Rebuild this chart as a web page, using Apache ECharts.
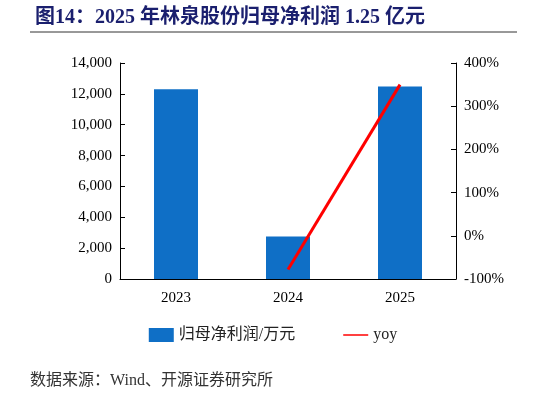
<!DOCTYPE html>
<html>
<head>
<meta charset="UTF-8">
<script src="https://cdn.jsdelivr.net/npm/echarts@6/dist/echarts.min.js"></script>
<style>
body{margin:0;background:#fff;}
#c{width:546px;height:405px;}
</style>
</head>
<body>
<div id="c"></div>
<script>
const years = ['2023', '2024', '2025'];
const profit = [12300, 2750, 12480];
const yoy = [null, -78, 350];

const chart = echarts.init(document.getElementById('c'));
const serif = 'Times New Roman, Liberation Serif, Noto Sans CJK SC, serif';
chart.setOption({
    animation: false,
    title: {
        text: '图14：2025 年林泉股份归母净利润 1.25 亿元',
        left: 30, top: 3,
        textStyle: { color: '#1a1f6e', fontSize: 20, fontWeight: 'bold', fontFamily: serif }
    },
    graphic: [
        { type: 'line', shape: { x1: 30, y1: 32, x2: 517, y2: 32 }, style: { stroke: '#333', lineWidth: 1 } },
        { type: 'text', left: 30, top: 373, style: { text: '数据来源：Wind、开源证券研究所', fill: '#333', fontSize: 16, fontFamily: serif } }
    ],
    grid: { left: 120, right: 90, top: 63, bottom: 126 },
    legend: {
        bottom: 57, left: 'center', itemGap: 48,
        textStyle: { fontSize: 16, color: '#222', fontFamily: serif },
        data: [
            { name: '归母净利润/万元', icon: 'rect', itemWidth: 60, itemHeight: 10 },
            { name: 'yoy', icon: 'path://M0,0H50V3H0Z', itemWidth: 62, itemHeight: 3 }
        ]
    },
    xAxis: {
        type: 'category', data: years,
        axisLine: { lineStyle: { color: '#000' } },
        axisTick: { show: false },
        axisLabel: { color: '#000', fontSize: 15, fontFamily: serif, margin: 12 }
    },
    yAxis: [
        {
            type: 'value', min: 0, max: 14000, interval: 2000,
            splitLine: { show: false },
            axisLine: { show: true, lineStyle: { color: '#000' } },
            axisTick: { show: true, inside: true },
            axisLabel: { color: '#000', fontSize: 15, fontFamily: serif,
                formatter: v => v.toLocaleString('en-US') }
        },
        {
            type: 'value', min: -100, max: 400, interval: 100,
            splitLine: { show: false },
            axisLine: { show: true, lineStyle: { color: '#000' } },
            axisTick: { show: true, inside: true },
            axisLabel: { color: '#000', fontSize: 15, fontFamily: serif, formatter: '{value}%' }
        }
    ],
    series: [
        { name: '归母净利润/万元', type: 'bar', data: profit, barWidth: 44, itemStyle: { color: '#0f6fc6' } },
        { name: 'yoy', type: 'line', yAxisIndex: 1, data: yoy, symbol: 'none',
          lineStyle: { color: '#ff0000', width: 3 }, itemStyle: { color: '#ff0000' } }
    ]
});
</script>
</body>
</html>
